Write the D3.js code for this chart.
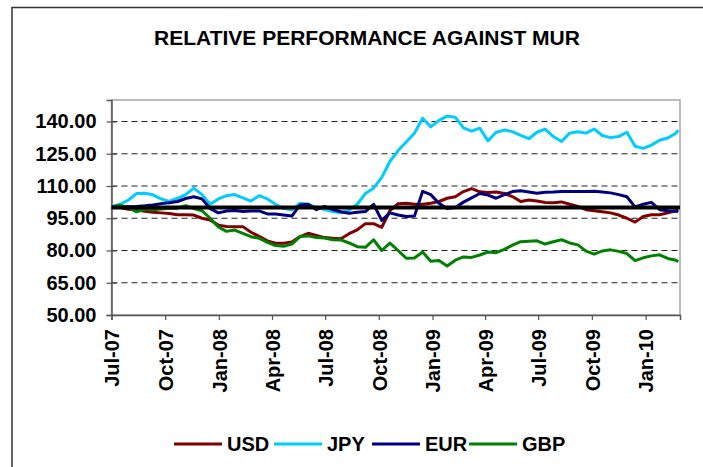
<!DOCTYPE html>
<html>
<head>
<meta charset="utf-8">
<script src="https://cdn.jsdelivr.net/npm/d3@7"></script>
<style>
body{margin:0;background:#fff;}
text{font-family:"Liberation Sans",Arial,sans-serif;font-weight:bold;fill:#000;}
</style>
</head>
<body>
<svg id="chart" width="703" height="467"></svg>
<script>
// fortnightly readings, index = 100 at start of Jul-07
var dates = [
 "2007-07-02","2007-07-16","2007-07-30","2007-08-13","2007-08-27","2007-09-10","2007-09-24","2007-10-08","2007-10-22","2007-11-05",
 "2007-11-19","2007-12-03","2007-12-17","2007-12-31","2008-01-14","2008-01-28","2008-02-11","2008-02-25","2008-03-10","2008-03-24",
 "2008-04-07","2008-04-21","2008-05-05","2008-05-19","2008-06-02","2008-06-16","2008-06-30","2008-07-14","2008-07-28","2008-08-11",
 "2008-08-25","2008-09-08","2008-09-22","2008-10-06","2008-10-20","2008-11-03","2008-11-17","2008-12-01","2008-12-15","2008-12-29",
 "2009-01-12","2009-01-26","2009-02-09","2009-02-23","2009-03-09","2009-03-23","2009-04-06","2009-04-20","2009-05-04","2009-05-18",
 "2009-06-01","2009-06-15","2009-06-29","2009-07-13","2009-07-27","2009-08-10","2009-08-24","2009-09-07","2009-09-21","2009-10-05",
 "2009-10-19","2009-11-02","2009-11-16","2009-11-30","2009-12-14","2009-12-28","2010-01-11","2010-01-25","2010-02-08","2010-02-22",
 "2010-02-26"
];
var usd = [
 100.4,100.0,99.2,98.8,98.3,97.8,97.5,97.2,96.6,96.6,
 96.5,95.0,94.2,91.8,91.2,91.1,91.1,88.5,86.6,84.5,
 83.4,83.4,84.0,86.5,88.0,87.0,86.0,85.7,85.5,87.8,
 89.6,92.5,92.5,90.8,98.5,101.8,102.0,101.5,101.5,102.0,
 102.8,104.3,105.0,107.4,108.8,107.3,107.0,107.2,106.5,105.1,
 102.8,103.5,103.0,102.3,102.2,102.6,101.5,100.5,99.0,98.5,
 98.0,97.5,96.5,95.0,93.2,95.8,96.6,96.6,97.5,98.5,
 98.9
];
var jpy = [
 100.5,101.5,103.5,106.5,106.6,105.9,104.0,102.8,104.3,106.0,
 109.0,106.0,101.5,104.0,105.5,106.0,104.5,103.0,105.5,104.0,
 101.5,99.5,98.9,102.0,101.5,100.0,99.0,98.1,97.5,98.8,
 101.5,106.5,109.0,114.0,121.4,126.5,130.5,134.5,141.5,137.5,
 140.5,142.5,142.0,137.0,135.5,136.9,131.0,135.0,136.0,135.3,
 133.5,132.0,135.0,136.5,133.0,130.7,134.6,135.2,134.6,136.5,
 133.5,132.5,133.0,135.0,128.5,127.5,129.0,131.3,132.3,134.5,
 136.0
];
var eur = [
 100.4,100.2,100.4,100.5,100.8,101.2,101.8,102.2,102.8,104.2,
 105.0,104.0,99.5,97.5,98.4,98.6,98.1,98.4,98.4,97.0,
 97.0,96.5,96.0,101.2,101.5,99.0,100.5,99.0,98.0,97.3,
 97.8,98.1,101.5,94.0,97.5,96.5,95.8,96.0,107.5,106.0,
 102.0,99.5,100.0,102.5,104.5,106.5,105.8,104.3,106.0,107.4,
 107.8,107.2,106.6,107.1,107.2,107.4,107.4,107.4,107.4,107.6,
 107.2,106.8,106.0,105.0,100.3,101.5,102.4,99.0,98.5,98.2,
 98.1
];
var gbp = [
 100.4,101.0,100.0,98.0,99.3,98.9,99.3,99.7,99.7,100.8,
 99.5,98.5,95.0,91.0,88.9,89.5,88.0,86.4,85.7,83.8,
 82.3,82.0,83.0,86.5,86.8,86.0,85.8,85.0,84.9,83.5,
 81.8,81.5,85.0,80.0,83.4,80.0,76.4,76.5,79.3,75.0,
 75.3,72.8,75.5,77.0,76.8,77.9,79.3,79.0,80.5,82.5,
 84.1,84.3,84.5,83.0,84.1,85.0,83.5,82.6,79.7,78.3,
 79.8,80.3,79.6,78.6,75.3,76.6,77.5,78.0,76.3,75.5,
 74.8
];
var seriesNames = ["USD","JPY","EUR","GBP"];
var seriesColors = ["#800000","#00ccff","#000080","#008000"];
var yTicks = [50,65,80,95,110,125,140];
var xTicks = ["2007-07-01","2007-10-01","2008-01-01","2008-04-01","2008-07-01","2008-10-01",
              "2009-01-01","2009-04-01","2009-07-01","2009-10-01","2010-01-01"];
var baseline = 100;

var svg = d3.select("#chart");
var parse = d3.timeParse("%Y-%m-%d");
var plot = {left:111.5, right:680, top:100, bottom:315};

var x = d3.scaleTime()
    .domain([parse("2007-07-01"), parse("2010-03-01")])
    .range([plot.left, plot.right]);
var y = d3.scaleLinear()
    .domain([50,150])
    .range([plot.bottom, plot.top]);

// outer chart frame
svg.append("rect")
    .attr("x",12).attr("y",7.5)
    .attr("width",700).attr("height",470)
    .attr("fill","#fff")
    .attr("stroke","#333").attr("stroke-width",1.5);

svg.append("text")
    .attr("x",367).attr("y",45)
    .attr("text-anchor","middle")
    .style("font-size","21px")
    .text("RELATIVE PERFORMANCE AGAINST MUR");

// plot area border
svg.append("rect")
    .attr("x",plot.left).attr("y",plot.top)
    .attr("width",plot.right-plot.left).attr("height",plot.bottom-plot.top)
    .attr("fill","none")
    .attr("stroke","#a6a6a6").attr("stroke-width",1.5);

// dashed gridlines
svg.append("g").selectAll("line")
    .data(yTicks.filter(function(d){ return d != 50; }))
    .join("line")
    .attr("x1",plot.left).attr("x2",plot.right)
    .attr("y1",function(d){ return y(d); })
    .attr("y2",function(d){ return y(d); })
    .attr("stroke","#222").attr("stroke-width",1)
    .attr("stroke-dasharray","6,4");

var yAxis = svg.append("g")
    .attr("transform","translate("+plot.left+",0)")
    .call(d3.axisLeft(y).tickValues(yTicks).tickSize(5).tickFormat(d3.format(".2f")));
yAxis.selectAll("text").style("font-size","20px").attr("x",-15);

var xAxis = svg.append("g")
    .attr("transform","translate(0,"+plot.bottom+")")
    .call(d3.axisBottom(x).tickValues(xTicks.map(parse)).tickSize(5).tickFormat(d3.timeFormat("%b-%y")));
xAxis.selectAll("text")
    .style("font-size","20px")
    .attr("transform","rotate(-90)")
    .attr("text-anchor","end")
    .attr("x",-14).attr("y",0).attr("dy","0.36em");

[yAxis, xAxis].forEach(function(g){
    g.select(".domain").attr("stroke","#555").attr("stroke-width",1.5);
    g.selectAll(".tick line").attr("stroke","#555").attr("stroke-width",1.2);
});
yAxis.selectAll(".tick line").attr("x2",5).attr("x1",-5);

var allSeries = [usd, jpy, eur, gbp];
var line = d3.line()
    .x(function(d,i){ return x(parse(dates[i])); })
    .y(function(d){ return y(d); });

allSeries.forEach(function(vals, k){
    svg.append("path")
        .datum(vals)
        .attr("d", line)
        .attr("fill","none")
        .attr("stroke", seriesColors[k])
        .attr("stroke-width",3)
        .attr("stroke-linejoin","round");
});

// 100 reference line
svg.append("line")
    .attr("x1",plot.left).attr("x2",plot.right)
    .attr("y1",y(baseline)).attr("y2",y(baseline))
    .attr("stroke","#000").attr("stroke-width",4);

// legend
var legendX = [174, 274, 372, 469];
var lg = svg.append("g").selectAll("g")
    .data(seriesNames)
    .join("g")
    .attr("transform",function(d,i){ return "translate("+legendX[i]+",444)"; });
lg.append("line")
    .attr("x1",0).attr("x2",48)
    .attr("stroke",function(d,i){ return seriesColors[i]; })
    .attr("stroke-width",3);
lg.append("text")
    .attr("x",53).attr("y",7)
    .style("font-size","20px")
    .text(function(d){ return d; });
</script>
</body>
</html>
